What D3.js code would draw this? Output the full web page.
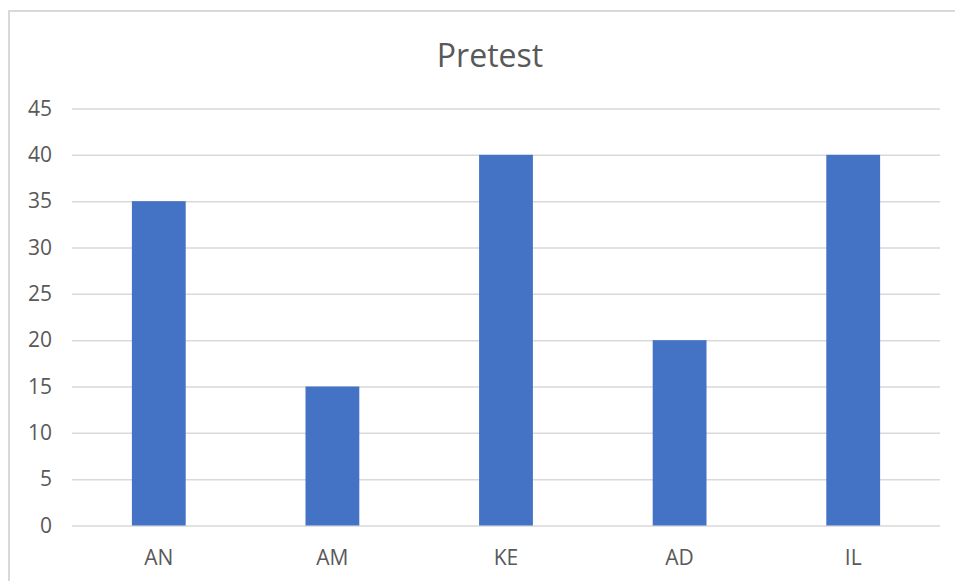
<!DOCTYPE html>
<html>
<head>
<meta charset="utf-8">
<script src="https://cdn.jsdelivr.net/npm/d3@7"></script>
<style>
  html, body { margin: 0; padding: 0; background: #fff; }
  svg { display: block; }
  text { font-family: "Open Sans", "Noto Sans", sans-serif; fill: #595959; }
</style>
</head>
<body>
<script>
// Pretest scores per participant
const categories = ["AN", "AM", "KE", "AD", "IL"];
const values = [35, 15, 40, 20, 40];
const yTicks = [0, 5, 10, 15, 20, 25, 30, 35, 40, 45];
const chartTitle = "Pretest";

const W = 955, H = 581;
const margin = { left: 72, right: 15, top: 108.5, bottom: 55.5 };

const svg = d3.select("body").append("svg")
  .attr("width", W).attr("height", H);

// chart frame
svg.append("rect")
  .attr("x", 9).attr("y", 11)
  .attr("width", W + 10).attr("height", H + 10)
  .attr("fill", "none").attr("stroke", "#d9d9d9").attr("stroke-width", 2);

const x = d3.scaleBand()
  .domain(categories)
  .range([margin.left, W - margin.right])
  .paddingInner(0.69).paddingOuter(0.345);

const y = d3.scaleLinear()
  .domain([0, 45])
  .range([H - margin.bottom, margin.top]);

// horizontal gridlines + value axis labels
const yAxis = d3.axisLeft(y)
  .tickValues(yTicks)
  .tickSize(-(W - margin.right - margin.left))
  .tickPadding(20);

const gy = svg.append("g")
  .attr("transform", `translate(${margin.left},0)`)
  .call(yAxis);
gy.select(".domain").remove();
gy.selectAll(".tick line").attr("stroke", "#d9d9d9").attr("stroke-width", 1.5);
gy.selectAll(".tick text")
  .attr("font-size", 21)
  .attr("fill", "#595959")
  .attr("font-family", "'Open Sans', 'Noto Sans', sans-serif");

// bars
svg.append("g").selectAll("rect")
  .data(categories)
  .join("rect")
  .attr("x", d => x(d))
  .attr("width", x.bandwidth())
  .attr("y", (d, i) => y(values[i]))
  .attr("height", (d, i) => y(0) - y(values[i]))
  .attr("fill", "#4472C4");

// category axis labels
const xAxis = d3.axisBottom(x).tickSize(0).tickPadding(25);
const gx = svg.append("g")
  .attr("transform", `translate(0,${y(0)})`)
  .call(xAxis);
gx.select(".domain").remove();
gx.selectAll(".tick text")
  .attr("font-size", 21)
  .attr("fill", "#595959")
  .attr("font-family", "'Open Sans', 'Noto Sans', sans-serif");

// title
svg.append("text")
  .attr("x", (margin.left + W - margin.right) / 2 - 16)
  .attr("y", 67)
  .attr("text-anchor", "middle")
  .attr("font-size", 32)
  .text(chartTitle);
</script>
</body>
</html>
